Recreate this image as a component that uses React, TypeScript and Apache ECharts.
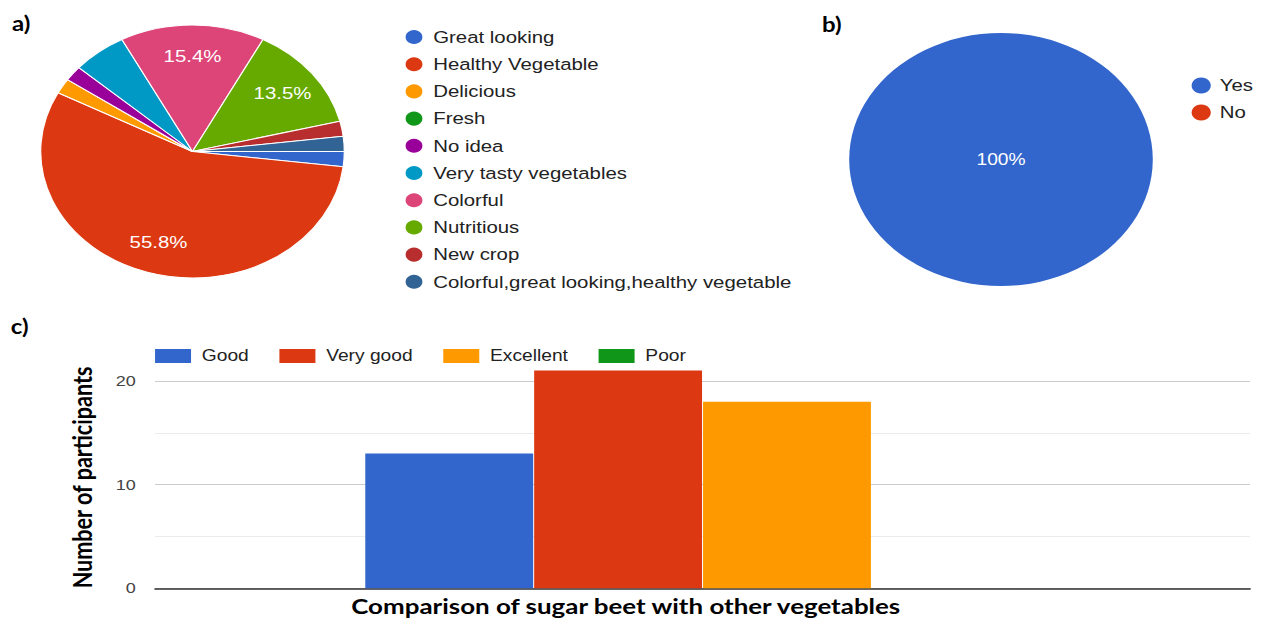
import React, { useEffect, useRef } from "react";
import * as echarts from "echarts";

// ---- data ----
const reasonNames = [
  "Great looking",
  "Healthy Vegetable",
  "Delicious",
  "Fresh",
  "No idea",
  "Very tasty vegetables",
  "Colorful",
  "Nutritious",
  "New crop",
  "Colorful,great looking,healthy vegetable",
];
const reasonValues = [1, 29, 1, 0, 1, 3, 8, 7, 1, 1];
const reasonColors = [
  "#3366cc", "#dc3912", "#ff9900", "#109618", "#990099",
  "#0099c6", "#dd4477", "#66aa00", "#b82e2e", "#316395",
];

const likeNames = ["Yes", "No"];
const likeValues = [52, 0];
const likeColors = ["#3366cc", "#dc3912"];

const ratingNames = ["Good", "Very good", "Excellent", "Poor"];
const ratingValues = [13, 21, 18, 0];
const ratingColors = ["#3366cc", "#dc3912", "#ff9900", "#109618"];
const barCategory = [""];

const panelLabels = ["a)", "b)", "c)"];

const SX = 1.2;
const W = 1263 / SX;
const H = 620;

export default function App() {
  const ref = useRef<HTMLDivElement>(null);
  useEffect(() => {
    if (!ref.current) return;
    const chart = echarts.init(ref.current, null, { renderer: "svg", width: W, height: H });
    const sans = "'Liberation Sans', Arial, sans-serif";
    const boldFont = "Lato, 'Open Sans', sans-serif";

    const pieA = reasonNames.map((n, i) => ({ name: n, value: reasonValues[i], itemStyle: { color: reasonColors[i] } }));
    const pieB = likeNames.map((n, i) => ({ name: n, value: likeValues[i], itemStyle: { color: likeColors[i] } }));

    const panelStyle = { fontFamily: boldFont, fontWeight: "bold", fontSize: 20, color: "#000" };

    const option: any = {
      animation: false,
      backgroundColor: "#ffffff",
      title: [
        { text: panelLabels[0], left: 10, top: 13, textStyle: panelStyle, padding: 0 },
        { text: panelLabels[1], left: 685, top: 14, textStyle: panelStyle, padding: 0 },
        { text: panelLabels[2], left: 9, top: 316, textStyle: panelStyle, padding: 0 },
      ],
      legend: [
        {
          orient: "vertical",
          left: 336,
          top: 28,
          padding: 0,
          itemWidth: 22,
          itemHeight: 16,
          itemGap: 9.2,
          icon: "circle",
          data: reasonNames,
          textStyle: { fontFamily: sans, fontSize: 17, color: "#222" },
        },
        {
          orient: "vertical",
          left: 993,
          top: 77,
          padding: 0,
          itemWidth: 21,
          itemHeight: 16,
          itemGap: 10,
          icon: "circle",
          data: likeNames,
          textStyle: { fontFamily: sans, fontSize: 17, color: "#222" },
        },
        {
          orient: "horizontal",
          left: 129.2,
          top: 348,
          padding: 0,
          itemWidth: 30,
          itemHeight: 14,
          itemGap: 25.5,
          icon: "rect",
          data: ratingNames,
          textStyle: { fontFamily: sans, fontSize: 16, color: "#222", padding: [0, 0, 0, 4] },
        },
      ],
      grid: { left: 129.2, right: W - 1041.7, top: 370.6, bottom: H - 588.3, containLabel: false },
      xAxis: {
        type: "category",
        data: barCategory,
        axisTick: { show: false },
        axisLabel: { show: false },
        axisLine: { lineStyle: { color: "#333", width: 1.5 } },
        name: "Comparison of sugar beet with other vegetables",
        nameLocation: "middle",
        nameGap: 6,
        nameTextStyle: {
          fontFamily: boldFont,
          fontWeight: "bold",
          fontSize: 21.6,
          color: "#000",
          verticalAlign: "top",
          padding: [0, 128, 0, 0],
        },
      },
      yAxis: {
        type: "value",
        min: 0,
        max: 21,
        interval: 5,
        axisLine: { show: false },
        axisTick: { show: false },
        axisLabel: {
          fontFamily: sans,
          fontSize: 15,
          color: "#444",
          margin: 16,
          formatter: (v: number) => (v % 10 === 0 ? String(v) : ""),
        },
        splitLine: {
          showMaxLine: false,
          lineStyle: { color: ["#cccccc", "#ebebeb"], width: 1.2 },
        },
        name: "Number of participants",
        nameLocation: "middle",
        nameRotate: 90,
        nameGap: 50,
        nameTextStyle: {
          fontFamily: boldFont,
          fontWeight: "bold",
          fontSize: 21.6,
          color: "#000",
          padding: [0, 0, 0, 4],
        },
      },
      series: [
        {
          type: "pie",
          name: "reasons",
          center: [192.5 / SX, 151.5],
          radius: [0, 126.5],
          startAngle: 0,
          clockwise: true,
          avoidLabelOverlap: false,
          label: { show: false },
          labelLine: { show: false },
          itemStyle: { borderColor: "#ffffff", borderWidth: 1 },
          emphasis: { disabled: true },
          data: pieA,
        },
        {
          type: "pie",
          name: "reasonLabels",
          center: [192.5 / SX, 151.5],
          radius: [58, 126.5],
          startAngle: 0,
          clockwise: true,
          silent: true,
          legendHoverLink: false,
          avoidLabelOverlap: false,
          itemStyle: { color: "rgba(0,0,0,0)", borderWidth: 0 },
          emphasis: { disabled: true },
          labelLine: { show: false },
          label: {
            show: true,
            position: "inside",
            color: "#ffffff",
            fontFamily: sans,
            fontSize: 17,
            formatter: (p: any) => (p.percent >= 10 ? p.percent.toFixed(1) + "%" : ""),
          },
          data: reasonNames.map((n, i) => ({ name: n, value: reasonValues[i] })),
        },
        {
          type: "pie",
          name: "like",
          center: [1001 / SX, 159.5],
          radius: [0, 126.5],
          startAngle: 90,
          emphasis: { disabled: true },
          itemStyle: { borderWidth: 0 },
          labelLine: { show: false },
          label: {
            show: true,
            position: "center",
            color: "#ffffff",
            fontFamily: sans,
            fontSize: 16,
            formatter: (p: any) => (p.value > 0 ? Math.round(p.percent) + "%" : ""),
          },
          data: pieB,
        },
        ...ratingNames.map((n, i) => ({
          type: "bar",
          name: n,
          data: [ratingValues[i]],
          itemStyle: { color: ratingColors[i] },
          barGap: "0.6%",
          barCategoryGap: "38.4%",
          emphasis: { disabled: true },
        })),
      ],
    };
    chart.setOption(option);
    return () => chart.dispose();
  }, []);
  return (
    <div
      style={{
        position: "fixed",
        left: 0,
        top: 0,
        width: 1263,
        height: H,
        overflow: "hidden",
        background: "#fff",
      }}
    >
      <div
        ref={ref}
        style={{
          width: W,
          height: H,
          transform: `scaleX(${SX})`,
          transformOrigin: "0 0",
        }}
      />
    </div>
  );
}
